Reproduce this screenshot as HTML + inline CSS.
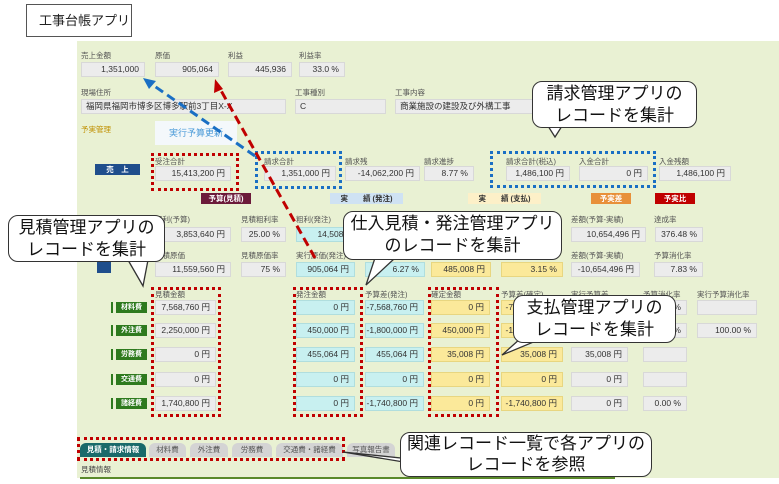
<!DOCTYPE html>
<html><head><meta charset="utf-8"><style>
*{margin:0;padding:0;box-sizing:border-box}
body{width:779px;height:484px;position:relative;background:#fff;overflow:hidden;font-family:"Liberation Sans","Noto Sans CJK JP",sans-serif}
.a{position:absolute}
.bg{left:77px;top:41px;width:702px;height:437px;background:#e9f1d3}
.l{position:absolute;font-size:7.5px;color:#555;white-space:nowrap}
.f{position:absolute;height:15px;background:#ececec;border:1px solid #d8d8d8;font-size:8.5px;color:#333;text-align:right;padding-right:5px;line-height:13px;white-space:nowrap;overflow:hidden}
.c{background:#c8f0f0;border-color:#b0dede}
.y{background:#fbe99a;border-color:#e8d680}
.g{position:absolute;left:116px;width:31px;height:11px;background:#2e7a1e;color:#fff;font-size:7px;font-weight:bold;text-align:center;line-height:11px}
.g:before{content:"";position:absolute;left:-5px;top:0;width:2px;height:11px;background:#2e7a1e}
.rd{position:absolute;border:3px dotted #c00000}
.bd{position:absolute;border:3px dotted #1a6fc4}
.h{position:absolute;height:11px;font-size:7.5px;font-weight:bold;text-align:center;line-height:11px}
.co{position:absolute;background:#fff;border:1.3px solid #333;border-radius:10px;font-size:17px;color:#111;text-align:center;line-height:22px;font-family:"Liberation Sans","Noto Sans CJK JP",sans-serif;white-space:nowrap}
.tab{position:absolute;top:443px;height:14px;background:#d4d4d4;border-radius:6px 6px 0 0;font-size:7.5px;color:#555;text-align:center;line-height:14px}
</style></head><body>
<div class="a" style="left:26px;top:4px;width:106px;height:33px;border:1px solid #555;font-size:13px;line-height:31px;padding-left:12px;color:#222;white-space:nowrap">工事台帳アプリ</div>
<div class="a bg"></div>

<div class="l" style="left:81px;top:50px">売上金額</div><div class="l" style="left:155px;top:50px">原価</div><div class="l" style="left:228px;top:50px">利益</div><div class="l" style="left:299px;top:50px">利益率</div>
<div class="f" style="left:81px;top:62px;width:64px">1,351,000</div>
<div class="f" style="left:155px;top:62px;width:64px">905,064</div>
<div class="f" style="left:228px;top:62px;width:64px">445,936</div>
<div class="f" style="left:299px;top:62px;width:46px">33.0 %</div>

<div class="l" style="left:81px;top:87px">現場住所</div><div class="l" style="left:295px;top:87px">工事種別</div><div class="l" style="left:395px;top:87px">工事内容</div>
<div class="f" style="left:81px;top:99px;width:205px;text-align:left;padding-left:4px">福岡県福岡市博多区博多駅前3丁目X-X</div>
<div class="f" style="left:295px;top:99px;width:91px;text-align:left;padding-left:4px">C</div>
<div class="f" style="left:395px;top:99px;width:140px;text-align:left;padding-left:4px">商業施設の建設及び外構工事</div>

<div class="l" style="left:81px;top:124px;color:#c09000">予実管理</div>
<div class="a" style="left:155px;top:121px;width:82px;height:24px;background:#f4f8fb;color:#4a9ad8;font-size:9px;text-align:center;line-height:24px">実行予算更新</div>

<div class="h" style="left:95px;top:164px;width:45px;background:#1f4e8c;color:#fff">売　上</div>
<div class="l" style="left:155px;top:156px">受注合計</div>
<div class="f" style="left:155px;top:166px;width:76px">15,413,200 円</div>
<div class="l" style="left:264px;top:156px">請求合計</div>
<div class="f" style="left:264px;top:166px;width:72px">1,351,000 円</div>
<div class="l" style="left:345px;top:156px">請求残</div>
<div class="f" style="left:345px;top:166px;width:75px">-14,062,200 円</div>
<div class="l" style="left:424px;top:156px">請求進捗</div>
<div class="f" style="left:424px;top:166px;width:50px">8.77 %</div>
<div class="l" style="left:506px;top:156px">請求合計(税込)</div>
<div class="f" style="left:506px;top:166px;width:64px">1,486,100 円</div>
<div class="l" style="left:579px;top:156px">入金合計</div>
<div class="f" style="left:579px;top:166px;width:69px">0 円</div>
<div class="l" style="left:659px;top:156px">入金残額</div>
<div class="f" style="left:659px;top:166px;width:72px">1,486,100 円</div>

<div class="h" style="left:201px;top:193px;width:50px;background:#6b1a3a;color:#fff">予算(見積)</div>
<div class="h" style="left:330px;top:193px;width:73px;background:#cfe2f3;color:#333">実　　績 (発注)</div>
<div class="h" style="left:468px;top:193px;width:73px;background:#fdf0c8;color:#333">実　　績 (支払)</div>
<div class="h" style="left:591px;top:193px;width:40px;background:#e8903a;color:#fff">予実差</div>
<div class="h" style="left:655px;top:193px;width:40px;background:#c00000;color:#fff">予実比</div>

<div class="l" style="left:155px;top:214px">粗利(予算)</div><div class="l" style="left:241px;top:214px">見積粗利率</div><div class="l" style="left:296px;top:214px">粗利(発注)</div><div class="l" style="left:571px;top:214px">差額(予算-実績)</div><div class="l" style="left:654px;top:214px">達成率</div>
<div class="f" style="left:155px;top:227px;width:76px">3,853,640 円</div>
<div class="f" style="left:241px;top:227px;width:45px">25.00 %</div>
<div class="f c" style="left:296px;top:227px;width:70px">14,508,136</div>
<div class="f" style="left:571px;top:227px;width:75px">10,654,496 円</div>
<div class="f" style="left:655px;top:227px;width:48px">376.48 %</div>

<div class="h" style="left:97px;top:262px;width:14px;background:#1f4e8c"></div>
<div class="l" style="left:155px;top:250px">見積原価</div><div class="l" style="left:241px;top:250px">見積原価率</div><div class="l" style="left:296px;top:250px">実行原価(発注)</div><div class="l" style="left:571px;top:250px">差額(予算-実績)</div><div class="l" style="left:654px;top:250px">予算消化率</div>
<div class="f" style="left:155px;top:262px;width:76px">11,559,560 円</div>
<div class="f" style="left:241px;top:262px;width:45px">75 %</div>
<div class="f c" style="left:296px;top:262px;width:59px">905,064 円</div>
<div class="f c" style="left:365px;top:262px;width:60px">6.27 %</div>
<div class="f y" style="left:431px;top:262px;width:60px">485,008 円</div>
<div class="f y" style="left:501px;top:262px;width:62px">3.15 %</div>
<div class="f" style="left:571px;top:262px;width:69px">-10,654,496 円</div>
<div class="f" style="left:654px;top:262px;width:49px">7.83 %</div>

<div class="l" style="left:155px;top:289px">見積金額</div><div class="l" style="left:296px;top:289px">発注金額</div><div class="l" style="left:365px;top:289px">予算差(発注)</div><div class="l" style="left:431px;top:289px">確定金額</div><div class="l" style="left:501px;top:289px">予算差(確定)</div><div class="l" style="left:571px;top:289px">実行予算差</div><div class="l" style="left:643px;top:289px">予算消化率</div><div class="l" style="left:697px;top:289px">実行予算消化率</div>

<div class="g" style="top:302px">材料費</div>
<div class="f" style="left:155px;top:300px;width:61px">7,568,760 円</div>
<div class="f c" style="left:296px;top:300px;width:59px">0 円</div>
<div class="f c" style="left:365px;top:300px;width:59px">-7,568,760 円</div>
<div class="f y" style="left:431px;top:300px;width:59px">0 円</div>
<div class="f y" style="left:501px;top:300px;width:62px">-7,568,760 円</div>
<div class="f" style="left:643px;top:300px;width:44px">0.00 %</div>
<div class="f" style="left:697px;top:300px;width:60px"></div>

<div class="g" style="top:325px">外注費</div>
<div class="f" style="left:155px;top:323px;width:61px">2,250,000 円</div>
<div class="f c" style="left:296px;top:323px;width:59px">450,000 円</div>
<div class="f c" style="left:365px;top:323px;width:59px">-1,800,000 円</div>
<div class="f y" style="left:431px;top:323px;width:59px">450,000 円</div>
<div class="f y" style="left:501px;top:323px;width:62px">-1,800,000 円</div>
<div class="f" style="left:643px;top:323px;width:44px">20.00 %</div>
<div class="f" style="left:697px;top:323px;width:60px">100.00 %</div>

<div class="g" style="top:349px">労務費</div>
<div class="f" style="left:155px;top:347px;width:61px">0 円</div>
<div class="f c" style="left:296px;top:347px;width:59px">455,064 円</div>
<div class="f c" style="left:365px;top:347px;width:59px">455,064 円</div>
<div class="f y" style="left:431px;top:347px;width:59px">35,008 円</div>
<div class="f y" style="left:501px;top:347px;width:62px">35,008 円</div>
<div class="f" style="left:571px;top:347px;width:57px">35,008 円</div>
<div class="f" style="left:643px;top:347px;width:44px"></div>

<div class="g" style="top:374px">交通費</div>
<div class="f" style="left:155px;top:372px;width:61px">0 円</div>
<div class="f c" style="left:296px;top:372px;width:59px">0 円</div>
<div class="f c" style="left:365px;top:372px;width:59px">0 円</div>
<div class="f y" style="left:431px;top:372px;width:59px">0 円</div>
<div class="f y" style="left:501px;top:372px;width:62px">0 円</div>
<div class="f" style="left:571px;top:372px;width:57px">0 円</div>
<div class="f" style="left:643px;top:372px;width:44px"></div>

<div class="g" style="top:398px">諸経費</div>
<div class="f" style="left:155px;top:396px;width:61px">1,740,800 円</div>
<div class="f c" style="left:296px;top:396px;width:59px">0 円</div>
<div class="f c" style="left:365px;top:396px;width:59px">-1,740,800 円</div>
<div class="f y" style="left:431px;top:396px;width:59px">0 円</div>
<div class="f y" style="left:501px;top:396px;width:62px">-1,740,800 円</div>
<div class="f" style="left:571px;top:396px;width:57px">0 円</div>
<div class="f" style="left:643px;top:396px;width:44px">0.00 %</div>

<div class="tab" style="left:80px;width:66px;background:#1a6a6a;color:#fff;font-weight:bold">見積・請求情報</div>
<div class="tab" style="left:149px;width:37px">材料費</div>
<div class="tab" style="left:190px;width:38px">外注費</div>
<div class="tab" style="left:232px;width:40px">労務費</div>
<div class="tab" style="left:276px;width:67px">交通費・諸経費</div>
<div class="tab" style="left:347px;width:48px">写真報告書</div>
<div class="l" style="left:81px;top:464px;color:#444">見積情報</div>
<div class="a" style="left:80px;top:477px;width:535px;height:2px;background:#5a8a2a"></div>

<div class="rd" style="left:151px;top:153px;width:88px;height:38px"></div>
<div class="bd" style="left:255px;top:151px;width:87px;height:38px"></div>
<div class="bd" style="left:490px;top:151px;width:166px;height:37px"></div>
<div class="rd" style="left:151px;top:287px;width:70px;height:130px"></div>
<div class="rd" style="left:293px;top:287px;width:70px;height:130px"></div>
<div class="rd" style="left:428px;top:287px;width:71px;height:130px"></div>
<div class="rd" style="left:77px;top:437px;width:268px;height:24px"></div>

<svg class="a" style="left:0;top:0" width="779" height="484">
<line x1="255" y1="156" x2="150" y2="83" stroke="#1a6fc4" stroke-width="3" stroke-dasharray="9,5"/>
<polygon points="143,78 156,81 149,89" fill="#1a6fc4"/>
<line x1="315" y1="258" x2="219" y2="87" stroke="#c00000" stroke-width="3" stroke-dasharray="9,5"/>
<polygon points="215,79 223,89 214,93" fill="#c00000"/>
<g fill="#fff" stroke="#333" stroke-width="1.3">
<polygon points="548,126 562,126 555,137"/>
<polygon points="128,260 148,260 143,286"/>
<polygon points="375,258 395,258 366,285"/>
<polygon points="530,330 548,336 502,355"/>
<polygon points="420,460 440,468 343,452"/>
</g>
</svg>
<div class="co" style="left:532px;top:81px;width:165px;height:47px;padding-top:1px">請求管理アプリの<br>レコードを集計</div>
<div class="co" style="left:8px;top:215px;width:157px;height:47px;padding-top:1px">見積管理アプリの<br>レコードを集計</div>
<div class="co" style="left:343px;top:211px;width:219px;height:49px;padding-top:1px">仕入見積・発注管理アプリ<br>のレコードを集計</div>
<div class="co" style="left:513px;top:295px;width:163px;height:48px;padding-top:1px">支払管理アプリの<br>レコードを集計</div>
<div class="co" style="left:400px;top:432px;width:252px;height:45px;line-height:21px">関連レコード一覧で各アプリの<br>レコードを参照</div>
</body></html>
